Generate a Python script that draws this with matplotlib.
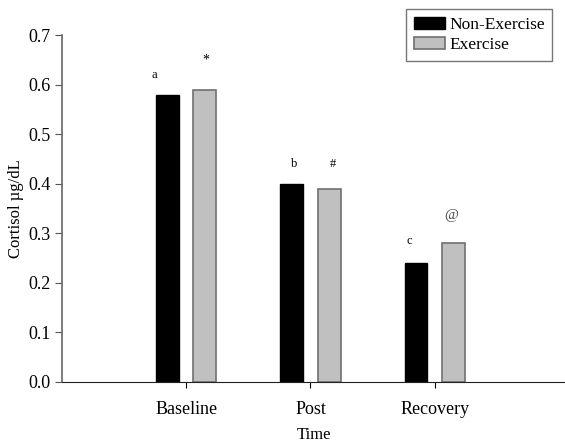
import numpy as np
import matplotlib.pyplot as plt

plt.rcParams['font.family'] = ['Liberation Serif', 'DejaVu Serif']

# data
timepoints = ['Baseline', 'Post', 'Recovery']
non_exercise = [0.58, 0.40, 0.24]
exercise = [0.59, 0.39, 0.28]
marks_non = ['a', 'b', 'c']
marks_ex = ['*', '#', '@']

x = np.arange(len(timepoints))
w = 0.185

fig = plt.figure(figsize=(5.65, 4.44), dpi=100)
ax = fig.add_axes([0.110, 0.140, 0.89, 0.781])

ax.bar(x - 0.15, non_exercise, w, color='black', edgecolor='black',
       linewidth=1, label='Non-Exercise')
ax.bar(x + 0.15, exercise, w, color='#c0c0c0', edgecolor='#707070',
       linewidth=1.2, label='Exercise')

# significance letters
ax.text(-0.26, 0.62, marks_non[0], fontsize=9, ha='center', va='center')
ax.text(0.16, 0.65, marks_ex[0], fontsize=10, ha='center', va='center')
ax.text(0.87, 0.44, marks_non[1], fontsize=9, ha='center', va='center')
ax.text(1.18, 0.44, marks_ex[1], fontsize=9, ha='center', va='center')
ax.text(1.80, 0.284, marks_non[2], fontsize=9, ha='center', va='center')
ax.text(2.13, 0.336, marks_ex[2], fontsize=11, ha='center', va='center',
        color='#444444')

ax.set_xlim(-1.0, 3.05)
ax.set_ylim(0, 0.7)
ax.set_yticks(np.arange(0, 0.71, 0.1))
ax.set_yticklabels(['%.1f' % v for v in np.arange(0, 0.71, 0.1)])
ax.set_xticks(x)
ax.set_xticklabels(timepoints)
ax.tick_params(axis='both', labelsize=13, direction='out')
ax.tick_params(axis='y', length=5, color='#555555')
ax.tick_params(axis='x', length=4, pad=10)

ax.spines['top'].set_visible(False)
ax.spines['right'].set_visible(False)
ax.spines['left'].set_color('#666666')
ax.spines['left'].set_linewidth(1.2)
ax.spines['bottom'].set_color('#222222')

ax.set_ylabel('Cortisol µg/dL', fontsize=12, labelpad=3)
ax.set_xlabel('Time', fontsize=12, labelpad=6)

leg = fig.legend(loc='upper right', bbox_to_anchor=(0.987, 0.992),
                 fontsize=12.5, frameon=True, fancybox=False,
                 handlelength=1.75, handleheight=0.7, handletextpad=0.25,
                 borderpad=0.45, labelspacing=0.25, borderaxespad=0.3)
leg.get_frame().set_edgecolor('#555555')
leg.get_frame().set_linewidth(1)

fig.savefig('out.png', dpi=100)
